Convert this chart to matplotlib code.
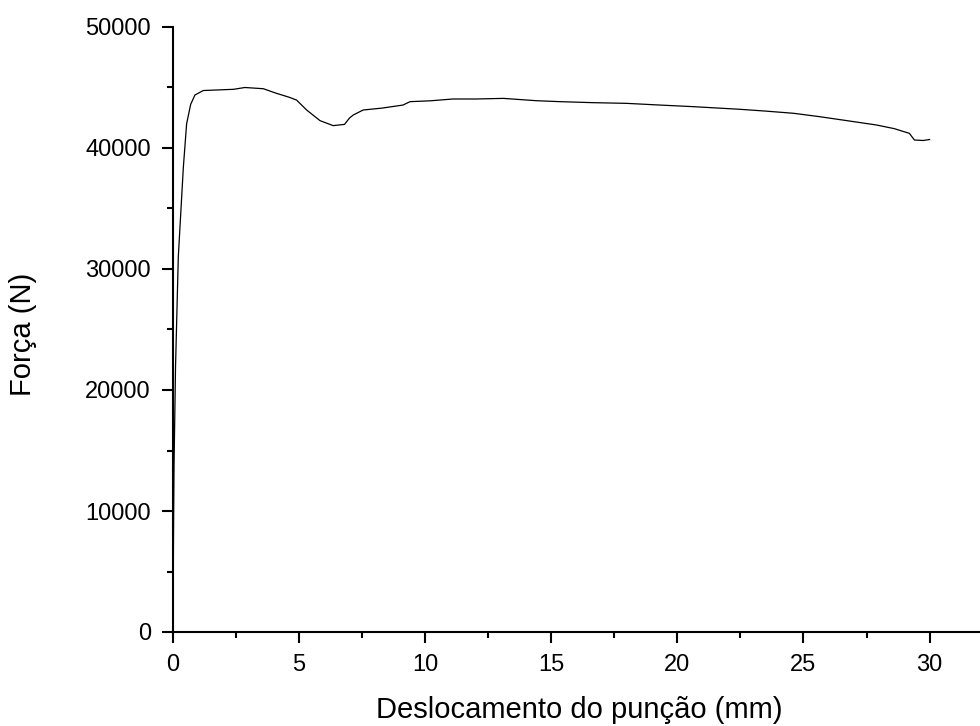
import matplotlib
matplotlib.use("Agg")
import matplotlib.pyplot as plt
from matplotlib.ticker import MultipleLocator

plt.rcParams['font.family'] = ['Liberation Sans', 'DejaVu Sans']

# Punch displacement (mm) and force (N)
deslocamento = [0.0, 0.02, 0.04, 0.10, 0.21, 0.41, 0.54, 0.70, 0.87, 1.2, 1.8,
                2.4, 2.85, 3.58, 4.1, 4.6, 4.9, 5.3, 5.83, 6.35, 6.8, 7.0, 7.15,
                7.54, 8.3, 9.12, 9.4, 10.2, 11.1, 12.0, 13.1, 14.4, 15.34, 16.6,
                17.98, 19.3, 20.6, 22.47, 23.5, 24.6, 25.6, 26.56, 27.9, 28.6,
                29.2, 29.4, 29.74, 30.0]
forca = [0, 8000, 13600, 21900, 31000, 38400, 42000, 43600, 44380, 44750,
         44800, 44850, 45000, 44900, 44520, 44200, 43960, 43140, 42260, 41850,
         41950, 42480, 42730, 43140, 43300, 43550, 43830, 43900, 44050, 44050,
         44100, 43910, 43830, 43750, 43690, 43550, 43420, 43200, 43050, 42870,
         42600, 42310, 41900, 41600, 41210, 40660, 40620, 40700]

fig = plt.figure(figsize=(9.8, 7.26), dpi=100)
ax = fig.add_axes([173 / 980, 1 - 632 / 726, (980 - 173) / 980, (632 - 27) / 726])

ax.plot(deslocamento, forca, color='black', linewidth=0.9)

ax.set_xlim(0, 32)
ax.set_ylim(0, 50000)
ax.xaxis.set_major_locator(MultipleLocator(5))
ax.xaxis.set_minor_locator(MultipleLocator(2.5))
ax.yaxis.set_major_locator(MultipleLocator(10000))
ax.yaxis.set_minor_locator(MultipleLocator(5000))

ax.spines['top'].set_visible(False)
ax.spines['right'].set_visible(False)
for s in ('left', 'bottom'):
    ax.spines[s].set_linewidth(1.5)
ax.tick_params(which='major', direction='out', length=8, width=1.5,
               labelsize=17, pad=8)
ax.tick_params(which='minor', direction='out', length=4.5, width=1.5)

ax.set_xlabel('Deslocamento do punção (mm)', fontsize=21)
ax.set_ylabel('Força (N)', fontsize=21)
ax.xaxis.set_label_coords(0.504, -0.105)
ax.yaxis.set_label_coords(-0.168, 0.4926)

fig.savefig('out.png', dpi=100)
